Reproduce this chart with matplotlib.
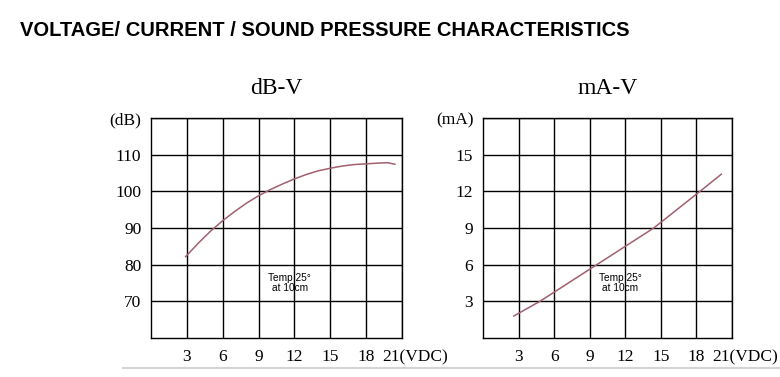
import matplotlib
matplotlib.use("Agg")
import matplotlib.pyplot as plt
from matplotlib.lines import Line2D
from matplotlib.transforms import ScaledTranslation

# ---- data ----
db_voltage = [2.9, 4, 5, 6, 7, 8, 9, 10, 11, 12, 13, 14, 15, 16, 17, 18, 19, 19.8, 20.4]
db_values = [82.2, 86.0, 89.2, 92.0, 94.5, 96.8, 98.8, 100.5, 102.0, 103.4, 104.6,
             105.6, 106.3, 106.9, 107.3, 107.5, 107.7, 107.8, 107.4]

ma_voltage = [2.6, 4.8, 9.6, 14.4, 18.3, 20.1]
ma_values = [1.8, 3.0, 6.0, 9.0, 12.0, 13.4]

x_ticks = [3, 6, 9, 12, 15, 18, 21]
x_labels = ["3", "6", "9", "12", "15", "18", "21(VDC)"]
db_ticks = [70, 80, 90, 100, 110, 120]
db_labels = ["70", "80", "90", "100", "110", "(dB)"]
ma_ticks = [3, 6, 9, 12, 15, 18]
ma_labels = ["3", "6", "9", "12", "15", "(mA)"]

title = "VOLTAGE/ CURRENT / SOUND PRESSURE CHARACTERISTICS"
note = "Temp 25\u00b0\nat 10cm"

W, H = 780, 377
fig = plt.figure(figsize=(W / 100, H / 100), dpi=100)
fig.patch.set_facecolor("white")

serif = "Liberation Serif"
curve_color = "#a0606e"
tick_fs = 12.5

def make_axes(rect, xv, yv, ymin, ymax, yticks, ylabels, ttl, note_y):
    ax = fig.add_axes(rect)
    ax.plot(xv, yv, color=curve_color, lw=1.1)
    ax.set_xlim(0, 21)
    ax.set_ylim(ymin, ymax)
    ax.set_xticks(x_ticks)
    ax.set_xticklabels(x_labels, fontfamily=serif, fontsize=tick_fs)
    ax.set_yticks(yticks)
    ax.set_yticklabels(ylabels, fontfamily=serif, fontsize=tick_fs)
    ax.tick_params(length=0, pad=7)
    ax.tick_params(axis="x", pad=8)
    last = ax.get_xticklabels()[-1]
    last.set_horizontalalignment("left")
    last.set_transform(last.get_transform() + ScaledTranslation(-20 / 100, 0, fig.dpi_scale_trans))
    ax.grid(True, color="black", lw=1.0)
    for s in ax.spines.values():
        s.set_color("black")
        s.set_linewidth(1.0)
    ax.set_title(ttl, fontfamily=serif, fontsize=17, pad=17)
    ax.text(11.6, note_y, note, ha="center", va="center", fontsize=7.3,
            fontfamily="Liberation Sans", linespacing=1.1)
    return ax

make_axes([151 / W, 1 - 338 / H, 251 / W, 220 / H], db_voltage, db_values,
          60, 120, db_ticks, db_labels, "dB-V", 75.0)
make_axes([483 / W, 1 - 338 / H, 249 / W, 220 / H], ma_voltage, ma_values,
          0, 18, ma_ticks, ma_labels, "mA-V", 4.5)

fig.text(20 / W, 1 - 30 / H, title, ha="left", va="center", fontsize=14.5,
         fontweight="bold", fontfamily="Liberation Sans")

fig.add_artist(Line2D([123 / W, 1.0], [1 - 368 / H, 1 - 368 / H],
                      transform=fig.transFigure, color="#d4d4d4", lw=1.5))

fig.savefig("out.png", dpi=100, facecolor="white")
